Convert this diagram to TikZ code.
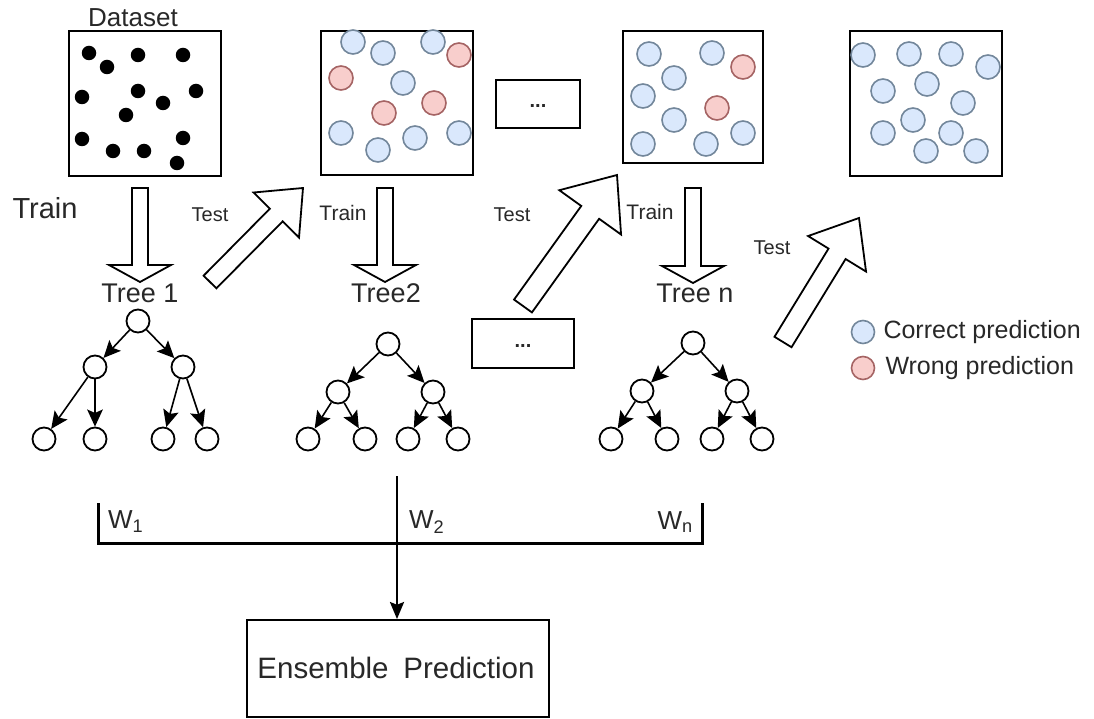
\documentclass[tikz,border=0pt]{standalone}
\usepackage{fontspec}
\setmainfont{Liberation Sans}
\usetikzlibrary{arrows.meta,calc}
\definecolor{bfill}{RGB}{218,232,252}
\definecolor{bdraw}{RGB}{115,135,155}
\definecolor{rfill}{RGB}{248,206,204}
\definecolor{rdraw}{RGB}{165,100,100}
\definecolor{txt}{RGB}{40,40,40}
\newcommand{\myfs}[1]{\fontsize{#1}{#1}\selectfont}
% tail, tip, shaft half width, head half width, head length
\newcommand{\blockarrow}[5]{%
  \coordinate (ba-b) at ($(#2)!#5!(#1)$);
  \draw[blockarr] ($(#1)!#3!90:(#2)$) -- ($(ba-b)!#3!90:(#2)$) -- ($(ba-b)!#4!90:(#2)$)
     -- (#2) -- ($(ba-b)!#4!-90:(#2)$) -- ($(ba-b)!#3!-90:(#2)$) -- ($(#1)!#3!-90:(#2)$) -- cycle;
}
\begin{document}
\begin{tikzpicture}[x=1pt,y=-1pt,
  panel/.style={draw=black,line width=2.2pt,fill=white,rectangle,inner sep=0pt},
  dot/.style={circle,fill=black,minimum size=14.5pt,inner sep=0pt},
  bc/.style={circle,draw=bdraw,fill=bfill,line width=1.6pt,minimum size=24pt,inner sep=0pt},
  rc/.style={circle,draw=rdraw,fill=rfill,line width=1.6pt,minimum size=24pt,inner sep=0pt},
  tn/.style={circle,draw=black,fill=white,line width=1.8pt,minimum size=23pt,inner sep=0pt},
  tedge/.style={line width=1.6pt,-{Stealth[length=6mm,width=5.5mm,inset=1.2mm]}},
  blockarr/.style={draw=black,line width=1.8pt,fill=white,line join=miter},
  lbl/.style={text=txt,inner sep=0pt},
  bracket/.style={line width=3pt,line join=miter},
  ensarrow/.style={line width=1.6pt,-{Stealth[length=6mm,width=5mm,inset=1mm]}}
]
\useasboundingbox (0,0) rectangle (1094,719);
\fill[white] (0,0) rectangle (1094,719);

% ---------- panels ----------
\node[panel,minimum width=152pt,minimum height=145pt] (box1) at (145,103.5) {};
\node[panel,minimum width=152pt,minimum height=144pt] (box2) at (397,103) {};
\node[panel,minimum width=84pt,minimum height=48pt] (dots1) at (538,104) {};
\node[lbl,font=\myfs{20}\bfseries] (dots1t) at (538,106) {...};
\node[panel,minimum width=140pt,minimum height=132pt] (box3) at (693,97) {};
\node[panel,line width=2.8pt,minimum width=152pt,minimum height=145pt] (box4) at (926,103.5) {};

\node[lbl,font=\myfs{26}] (dataset) at (133,18) {Dataset};

% dataset dots
\foreach \p [count=\i] in {(89,53),(107,67),(138,55),(183,55),(82,97),(138,91),(196,91),(163,103),(126,115),(82,139),(183,138),(113,151),(144,151),(177,163)}
  \node[dot] (d\i) at \p {};

% box2 circles
\foreach \p [count=\i] in {(353,42),(383,53),(433,42),(403,83),(341,133),(415,138),(459,133),(378,150)}
  \node[bc] (bb\i) at \p {};
\foreach \p [count=\i] in {(459,55),(341,78),(434,103),(384,113)}
  \node[rc] (br\i) at \p {};

% box3 circles
\foreach \p [count=\i] in {(649,54),(712,53),(674,78),(643,96),(674,120),(643,144),(706,144),(743,133)}
  \node[bc] (cb\i) at \p {};
\foreach \p [count=\i] in {(743,67),(717,108)}
  \node[rc] (cr\i) at \p {};

% box4 circles
\foreach \p [count=\i] in {(863,55),(909,54),(951,54),(988,67),(883,91),(927,84),(963,103),(913,120),(883,133),(951,133),(926,151),(976,151)}
  \node[bc] (db\i) at \p {};

% ---------- block arrows ----------
\coordinate (a1t) at (140,188); \coordinate (a1p) at (140,282);
\coordinate (a2t) at (385,188); \coordinate (a2p) at (385,282);
\coordinate (a3t) at (693,188); \coordinate (a3p) at (693,283);
\blockarrow{a1t}{a1p}{8pt}{31pt}{17pt}
\blockarrow{a2t}{a2p}{8pt}{31pt}{17pt}
\blockarrow{a3t}{a3p}{8pt}{31pt}{17pt}

\coordinate (t1t) at (210,282); \coordinate (t1p) at (303,188);
\coordinate (t2t) at (523,306); \coordinate (t2p) at (617,175);
\coordinate (t3t) at (783,342); \coordinate (t3p) at (859,218);
\blockarrow{t1t}{t1p}{9pt}{32pt}{38pt}
\blockarrow{t2t}{t2p}{11pt}{38pt}{46pt}
\blockarrow{t3t}{t3p}{10pt}{34pt}{42pt}

% labels
\node[lbl,font=\myfs{29}] (trainbig) at (45,208) {Train};
\node[lbl,font=\myfs{20}] (test1) at (210,215) {Test};
\node[lbl,font=\myfs{21}] (train2) at (343,213) {Train};
\node[lbl,font=\myfs{20}] (test2) at (512,215) {Test};
\node[lbl,font=\myfs{21}] (train3) at (650,212) {Train};
\node[lbl,font=\myfs{20}] (test3) at (772,248) {Test};

\node[lbl,font=\myfs{27}] (tree1) at (140,293) {Tree 1};
\node[lbl,font=\myfs{27}] (tree2) at (386,293) {Tree2};
\node[lbl,font=\myfs{27}] (treen) at (695,293) {Tree n};

% ---------- trees ----------
% tree 1
\node[tn] (r1) at (138,321) {};
\node[tn] (r1a) at (95,367) {};
\node[tn] (r1b) at (183,367) {};
\node[tn] (l1a) at (44,439) {};
\node[tn] (l1b) at (95,439) {};
\node[tn] (l1c) at (163,439) {};
\node[tn] (l1d) at (207,439) {};
\draw[tedge] (r1) -- (r1a);
\draw[tedge] (r1) -- (r1b);
\draw[tedge] (r1a) -- (l1a);
\draw[tedge] (r1a) -- (l1b);
\draw[tedge] (r1b) -- (l1c);
\draw[tedge] (r1b) -- (l1d);
% tree 2
\node[tn] (r2) at (388,344) {};
\node[tn] (r2a) at (338,392) {};
\node[tn] (r2b) at (433,392) {};
\node[tn] (l2a) at (308,439) {};
\node[tn] (l2b) at (365,439) {};
\node[tn] (l2c) at (408,439) {};
\node[tn] (l2d) at (458,439) {};
\draw[tedge] (r2) -- (r2a);
\draw[tedge] (r2) -- (r2b);
\draw[tedge] (r2a) -- (l2a);
\draw[tedge] (r2a) -- (l2b);
\draw[tedge] (r2b) -- (l2c);
\draw[tedge] (r2b) -- (l2d);
% tree n
\node[tn] (r3) at (693,343) {};
\node[tn] (r3a) at (642,391) {};
\node[tn] (r3b) at (737,391) {};
\node[tn] (l3a) at (611,439) {};
\node[tn] (l3b) at (667,439) {};
\node[tn] (l3c) at (712,439) {};
\node[tn] (l3d) at (762,439) {};
\draw[tedge] (r3) -- (r3a);
\draw[tedge] (r3) -- (r3b);
\draw[tedge] (r3a) -- (l3a);
\draw[tedge] (r3a) -- (l3b);
\draw[tedge] (r3b) -- (l3c);
\draw[tedge] (r3b) -- (l3d);

% lower dots box
\node[panel,line width=2pt,minimum width=102pt,minimum height=49pt] (dots2) at (523,343.5) {};
\node[lbl,font=\myfs{20}\bfseries] (dots2t) at (523,346) {...};

% legend
\node[bc,minimum size=23pt] (legb) at (863,332) {};
\node[rc,minimum size=23pt] (legr) at (863,368) {};
\node[lbl,font=\myfs{25},anchor=west] (legbt) at (legb.east) [xshift=8pt] {Correct prediction};
\node[lbl,font=\myfs{25},anchor=west] (legrt) at (legr.east) [xshift=10pt] {Wrong prediction};

% ---------- ensemble ----------
\coordinate (brL) at (98,503);
\coordinate (brLb) at (98,543);
\coordinate (brRb) at (702,543);
\coordinate (brR) at (702,503);
\draw[bracket] (brL) -- (brLb) -- (brRb) -- (brR);
\node[lbl,font=\myfs{26},anchor=west] (w1) at (108,522) {W\textsubscript{1}};
\node[lbl,font=\myfs{26},anchor=west] (w2) at (409,522) {W\textsubscript{2}};
\node[lbl,font=\myfs{26},anchor=east] (wn) at (693,522) {W\textsubscript{n}};

\node[panel,line width=2pt,minimum width=302pt,minimum height=97pt] (ens) at (398,668.5) {};
\node[lbl,font=\myfs{29.5}] (enst) at (396,668) {Ensemble\hspace{0.5em}Prediction};
\coordinate (vstart) at (397,476);
\draw[ensarrow] (vstart) -- (vstart |- ens.north);
\end{tikzpicture}
\end{document}
